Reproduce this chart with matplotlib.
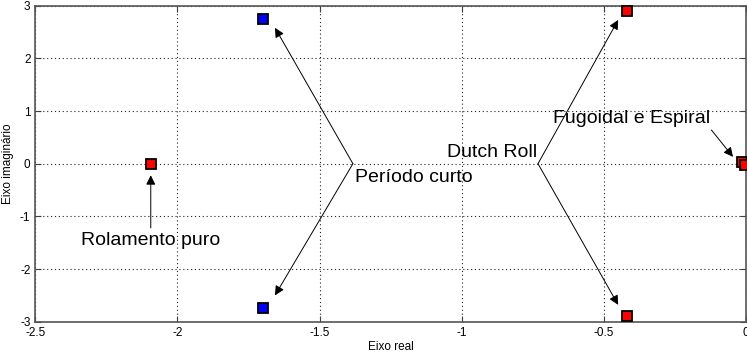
import matplotlib
matplotlib.use("Agg")
import matplotlib.pyplot as plt

# Poles of the lateral/longitudinal modes (real, imaginary)
pole_re = [-2.094, -1.698, -1.698, -0.42, -0.42, -0.013, -0.004]
pole_im = [0.0, 2.74, -2.74, 2.9, -2.9, 0.03, -0.02]
pole_col = ['red', 'blue', 'blue', 'red', 'red', 'red', 'red']

x_ticks = [-2.5, -2, -1.5, -1, -0.5, 0]
y_ticks = [-3, -2, -1, 0, 1, 2, 3]

plt.rcParams['font.family'] = ['Liberation Sans', 'DejaVu Sans']
plt.rcParams['axes.unicode_minus'] = False

fig = plt.figure(figsize=(7.47, 3.54), dpi=100)
ax = fig.add_axes([0.0473, 0.0912, 0.9515, 0.8927])

ax.set_xlim(-2.5, 0)
ax.set_ylim(-3, 3)
ax.set_xticks(x_ticks)
ax.set_yticks(y_ticks)
ax.set_xticklabels(['-2.5', '-2', '-1.5', '-1', '-0.5', '0'])
ax.grid(True, color='#222222', linestyle=(0, (1, 2.5)), linewidth=0.8)
ax.tick_params(direction='in', top=True, right=True, labelsize=8.5, length=4, color='#404040')
for s in ax.spines.values():
    s.set_color('#555555')
    s.set_linewidth(1.2)

arrow = dict(arrowstyle='-|>', color='black', lw=0.7, mutation_scale=14, shrinkA=0, shrinkB=0)

# Rolamento puro
ax.annotate('', xy=(-2.094, -0.22), xytext=(-2.094, -1.22), arrowprops=arrow)
ax.text(-2.095, -1.45, 'Rolamento puro', fontsize=14, ha='center', va='center')

# Periodo curto
ax.annotate('', xy=(-1.657, 2.58), xytext=(-1.383, 0.0), arrowprops=arrow)
ax.annotate('', xy=(-1.657, -2.5), xytext=(-1.383, 0.0), arrowprops=arrow)
ax.text(-1.375, -0.27, 'Período curto', fontsize=14, ha='left', va='center')

# Dutch roll
ax.annotate('', xy=(-0.45, 2.73), xytext=(-0.732, 0.0), arrowprops=arrow)
ax.annotate('', xy=(-0.45, -2.68), xytext=(-0.732, 0.0), arrowprops=arrow)
ax.text(-0.736, 0.22, 'Dutch Roll', fontsize=14, ha='right', va='center')

# Fugoidal e espiral
ax.annotate('', xy=(-0.046, 0.13), xytext=(-0.122, 0.64), arrowprops=arrow)
ax.text(-0.68, 0.86, 'Fugoidal e Espiral', fontsize=14, ha='left', va='center')

for x, y, c in zip(pole_re, pole_im, pole_col):
    ax.plot(x, y, 's', markersize=7.5, markerfacecolor=c, markeredgecolor='black',
            markeredgewidth=1.3, clip_on=False, zorder=5)

ax.set_xlabel('Eixo real', fontsize=8.5)
ax.set_ylabel('Eixo imaginário', fontsize=8.5)
ax.xaxis.set_label_coords(0.5, -0.062)
ax.yaxis.set_label_coords(-0.030, 0.5)

fig.savefig('out.png', dpi=100)
